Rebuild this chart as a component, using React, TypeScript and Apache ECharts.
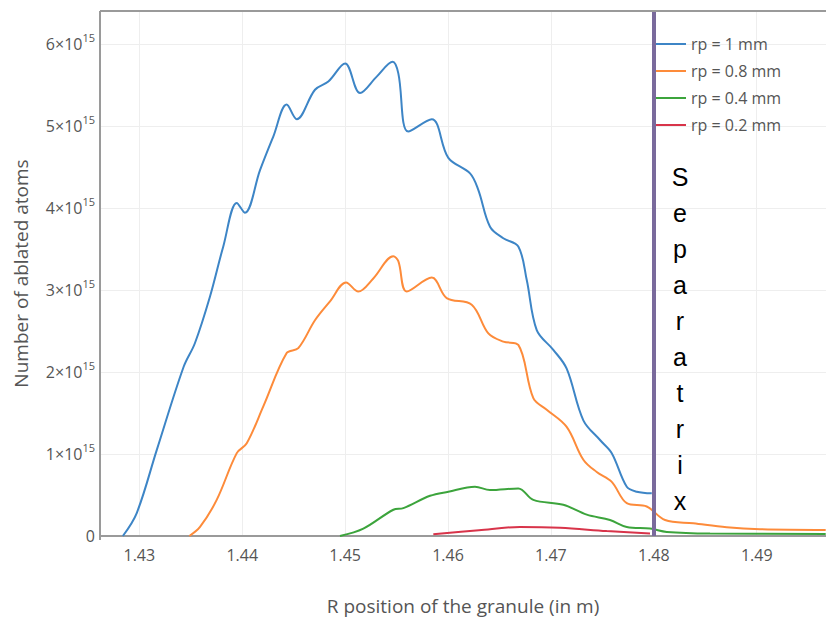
import React, { useEffect, useRef } from "react";
import * as echarts from "echarts";

const SCALE = 1e15;

const seriesNames = ["rp = 1 mm", "rp = 0.8 mm", "rp = 0.4 mm", "rp = 0.2 mm"];
const seriesColors = ["#3d85c6", "#fd8b3a", "#3ca43c", "#d8344a"];

// R position (m) and ablated atoms (in units of 1e15)
const r1mmR = [1.4284, 1.42975, 1.4317, 1.4343, 1.4354, 1.43687, 1.43816, 1.43947, 1.44027, 1.44173, 1.44302, 1.44432, 1.4453, 1.44707, 1.44837, 1.45, 1.45145, 1.45307, 1.45463, 1.45517, 1.45614, 1.45842, 1.46003, 1.46214, 1.46294, 1.46408, 1.46537, 1.46683, 1.46765, 1.46862, 1.47023, 1.47153, 1.47315, 1.47477, 1.47591, 1.47737, 1.47834, 1.4798];
const r1mmV = [0, 0.28, 1.05, 2.06, 2.35, 2.92, 3.53, 4.06, 3.94, 4.46, 4.87, 5.26, 5.08, 5.44, 5.54, 5.76, 5.40, 5.60, 5.78, 5.64, 4.93, 5.08, 4.61, 4.42, 4.22, 3.77, 3.63, 3.53, 3.12, 2.51, 2.27, 2.04, 1.41, 1.17, 1.01, 0.60, 0.54, 0.52];

const r08mmR = [1.43486, 1.4359, 1.43752, 1.43947, 1.44044, 1.44205, 1.44432, 1.44545, 1.44707, 1.44853, 1.45009, 1.45128, 1.45274, 1.45468, 1.45517, 1.45599, 1.45842, 1.45987, 1.4623, 1.46392, 1.46537, 1.46683, 1.46829, 1.46959, 1.47153, 1.47315, 1.47445, 1.47591, 1.47737, 1.47931, 1.48109, 1.48384, 1.48708, 1.49032, 1.4967];
const r08mmV = [0, 0.11, 0.44, 1.01, 1.13, 1.58, 2.23, 2.29, 2.63, 2.86, 3.09, 2.98, 3.14, 3.41, 3.35, 2.98, 3.15, 2.90, 2.82, 2.47, 2.37, 2.33, 1.68, 1.54, 1.33, 0.93, 0.78, 0.66, 0.40, 0.36, 0.195, 0.155, 0.106, 0.082, 0.073];

const r04mmR = [1.4495, 1.45177, 1.45469, 1.45566, 1.45825, 1.46003, 1.46262, 1.46408, 1.46683, 1.46829, 1.4712, 1.47348, 1.47574, 1.47737, 1.47963, 1.48126, 1.48546, 1.4967];
const r04mmV = [0, 0.09, 0.32, 0.34, 0.49, 0.54, 0.60, 0.56, 0.58, 0.44, 0.38, 0.26, 0.195, 0.11, 0.09, 0.05, 0.03, 0.025];

const r02mmR = [1.45857, 1.4630, 1.467, 1.47089, 1.47542, 1.47963];
const r02mmV = [0.02, 0.07, 0.11, 0.10, 0.06, 0.03];

const seriesR = [r1mmR, r08mmR, r04mmR, r02mmR];
const seriesV = [r1mmV, r08mmV, r04mmV, r02mmV];

const X_MIN = 1.42618;
const X_MAX = 1.49673;
const Y_MIN = 0;
const Y_MAX = 6.4;
const Y_STEP = 1;
const SEPARATRIX_R = 1.4797;
const separatrixLetters = "Separatrix".split("");

const FONT = "'Open Sans', 'Noto Sans', sans-serif";

export default function App() {
  const ref = useRef<HTMLDivElement>(null);
  useEffect(() => {
    if (!ref.current) return;
    const chart = echarts.init(ref.current, undefined, { renderer: "svg" });
    const series: any[] = seriesNames.map((name, i) => ({
      name,
      type: "line",
      symbol: "none",
      smooth: 0.35,
      data: seriesR[i].map((r, k) => [r, seriesV[i][k] * SCALE]),
      lineStyle: { color: seriesColors[i], width: 2 },
      itemStyle: { color: seriesColors[i] },
      z: 3,
    }));
    series[0].markLine = {
      silent: true,
      symbol: "none",
      label: { show: false },
      lineStyle: { color: "#7a6a9c", width: 4, type: "solid" },
      data: [{ xAxis: SEPARATRIX_R }],
      z: 5,
    };
    chart.setOption({
      animation: false,
      backgroundColor: "#ffffff",
      textStyle: { fontFamily: FONT },
      grid: { left: 100, top: 11, right: 0, bottom: 86, containLabel: false },
      legend: {
        orient: "vertical",
        left: 647,
        top: 31,
        icon: "rect",
        itemWidth: 34,
        itemHeight: 2,
        itemGap: 11,
        textStyle: { color: "#555", fontSize: 16, fontFamily: FONT },
        data: seriesNames,
      },
      xAxis: {
        type: "value",
        min: X_MIN,
        max: X_MAX,
        splitNumber: 7,
        offset: 3,
        name: "R position of the granule (in m)",
        nameLocation: "middle",
        nameGap: 57,
        nameTextStyle: { color: "#555", fontSize: 19, fontFamily: FONT },
        axisLine: { show: true, lineStyle: { color: "#9a9a9a", width: 2 } },
        axisTick: { show: false },
        axisLabel: {
          color: "#555",
          fontSize: 16,
          margin: 8,
          showMinLabel: false,
          showMaxLabel: false,
          formatter: (v: number) => v.toFixed(2),
        },
        splitLine: { show: true, lineStyle: { color: "#eeeeee", width: 1 } },
      },
      yAxis: {
        type: "value",
        min: Y_MIN * SCALE,
        max: Y_MAX * SCALE,
        interval: Y_STEP * SCALE,
        name: "Number of ablated atoms",
        nameLocation: "middle",
        nameGap: 70,
        nameTextStyle: { color: "#555", fontSize: 19, fontFamily: FONT },
        axisLine: { show: false },
        axisTick: { show: false },
        axisLabel: {
          color: "#555",
          fontSize: 16,
          margin: 5,
          showMaxLabel: false,
          formatter: (v: number) => {
            const m = Math.round(v / SCALE);
            if (m === 0) return "{b|0}";
            return `{b|${m}×10}{s|15}`;
          },
          rich: {
            b: { fontSize: 16, color: "#555", fontFamily: FONT, lineHeight: 24 },
            s: { fontSize: 11, color: "#555", fontFamily: FONT, lineHeight: 12, verticalAlign: "top" },
          },
        },
        splitLine: { show: true, lineStyle: { color: "#eeeeee", width: 1 } },
      },
      graphic: [
        { type: "line", shape: { x1: 100, y1: 11, x2: 826, y2: 11 }, style: { stroke: "#9a9a9a", lineWidth: 2 }, z: 10 },
        { type: "line", shape: { x1: 100, y1: 11, x2: 100, y2: 540 }, style: { stroke: "#9a9a9a", lineWidth: 2 }, z: 10 },
        {
          type: "text",
          x: 680,
          y: 159,
          style: {
            text: separatrixLetters.join("\n"),
            fill: "#000",
            fontSize: 25,
            fontFamily: "'Liberation Sans', Arial, sans-serif",
            lineHeight: 36,
            align: "center",
            verticalAlign: "top",
          },
          z: 10,
        },
      ],
      series,
    });
    return () => chart.dispose();
  }, []);
  return <div ref={ref} style={{ width: 826, height: 622, position: "absolute", left: 0, top: 0 }} />;
}
